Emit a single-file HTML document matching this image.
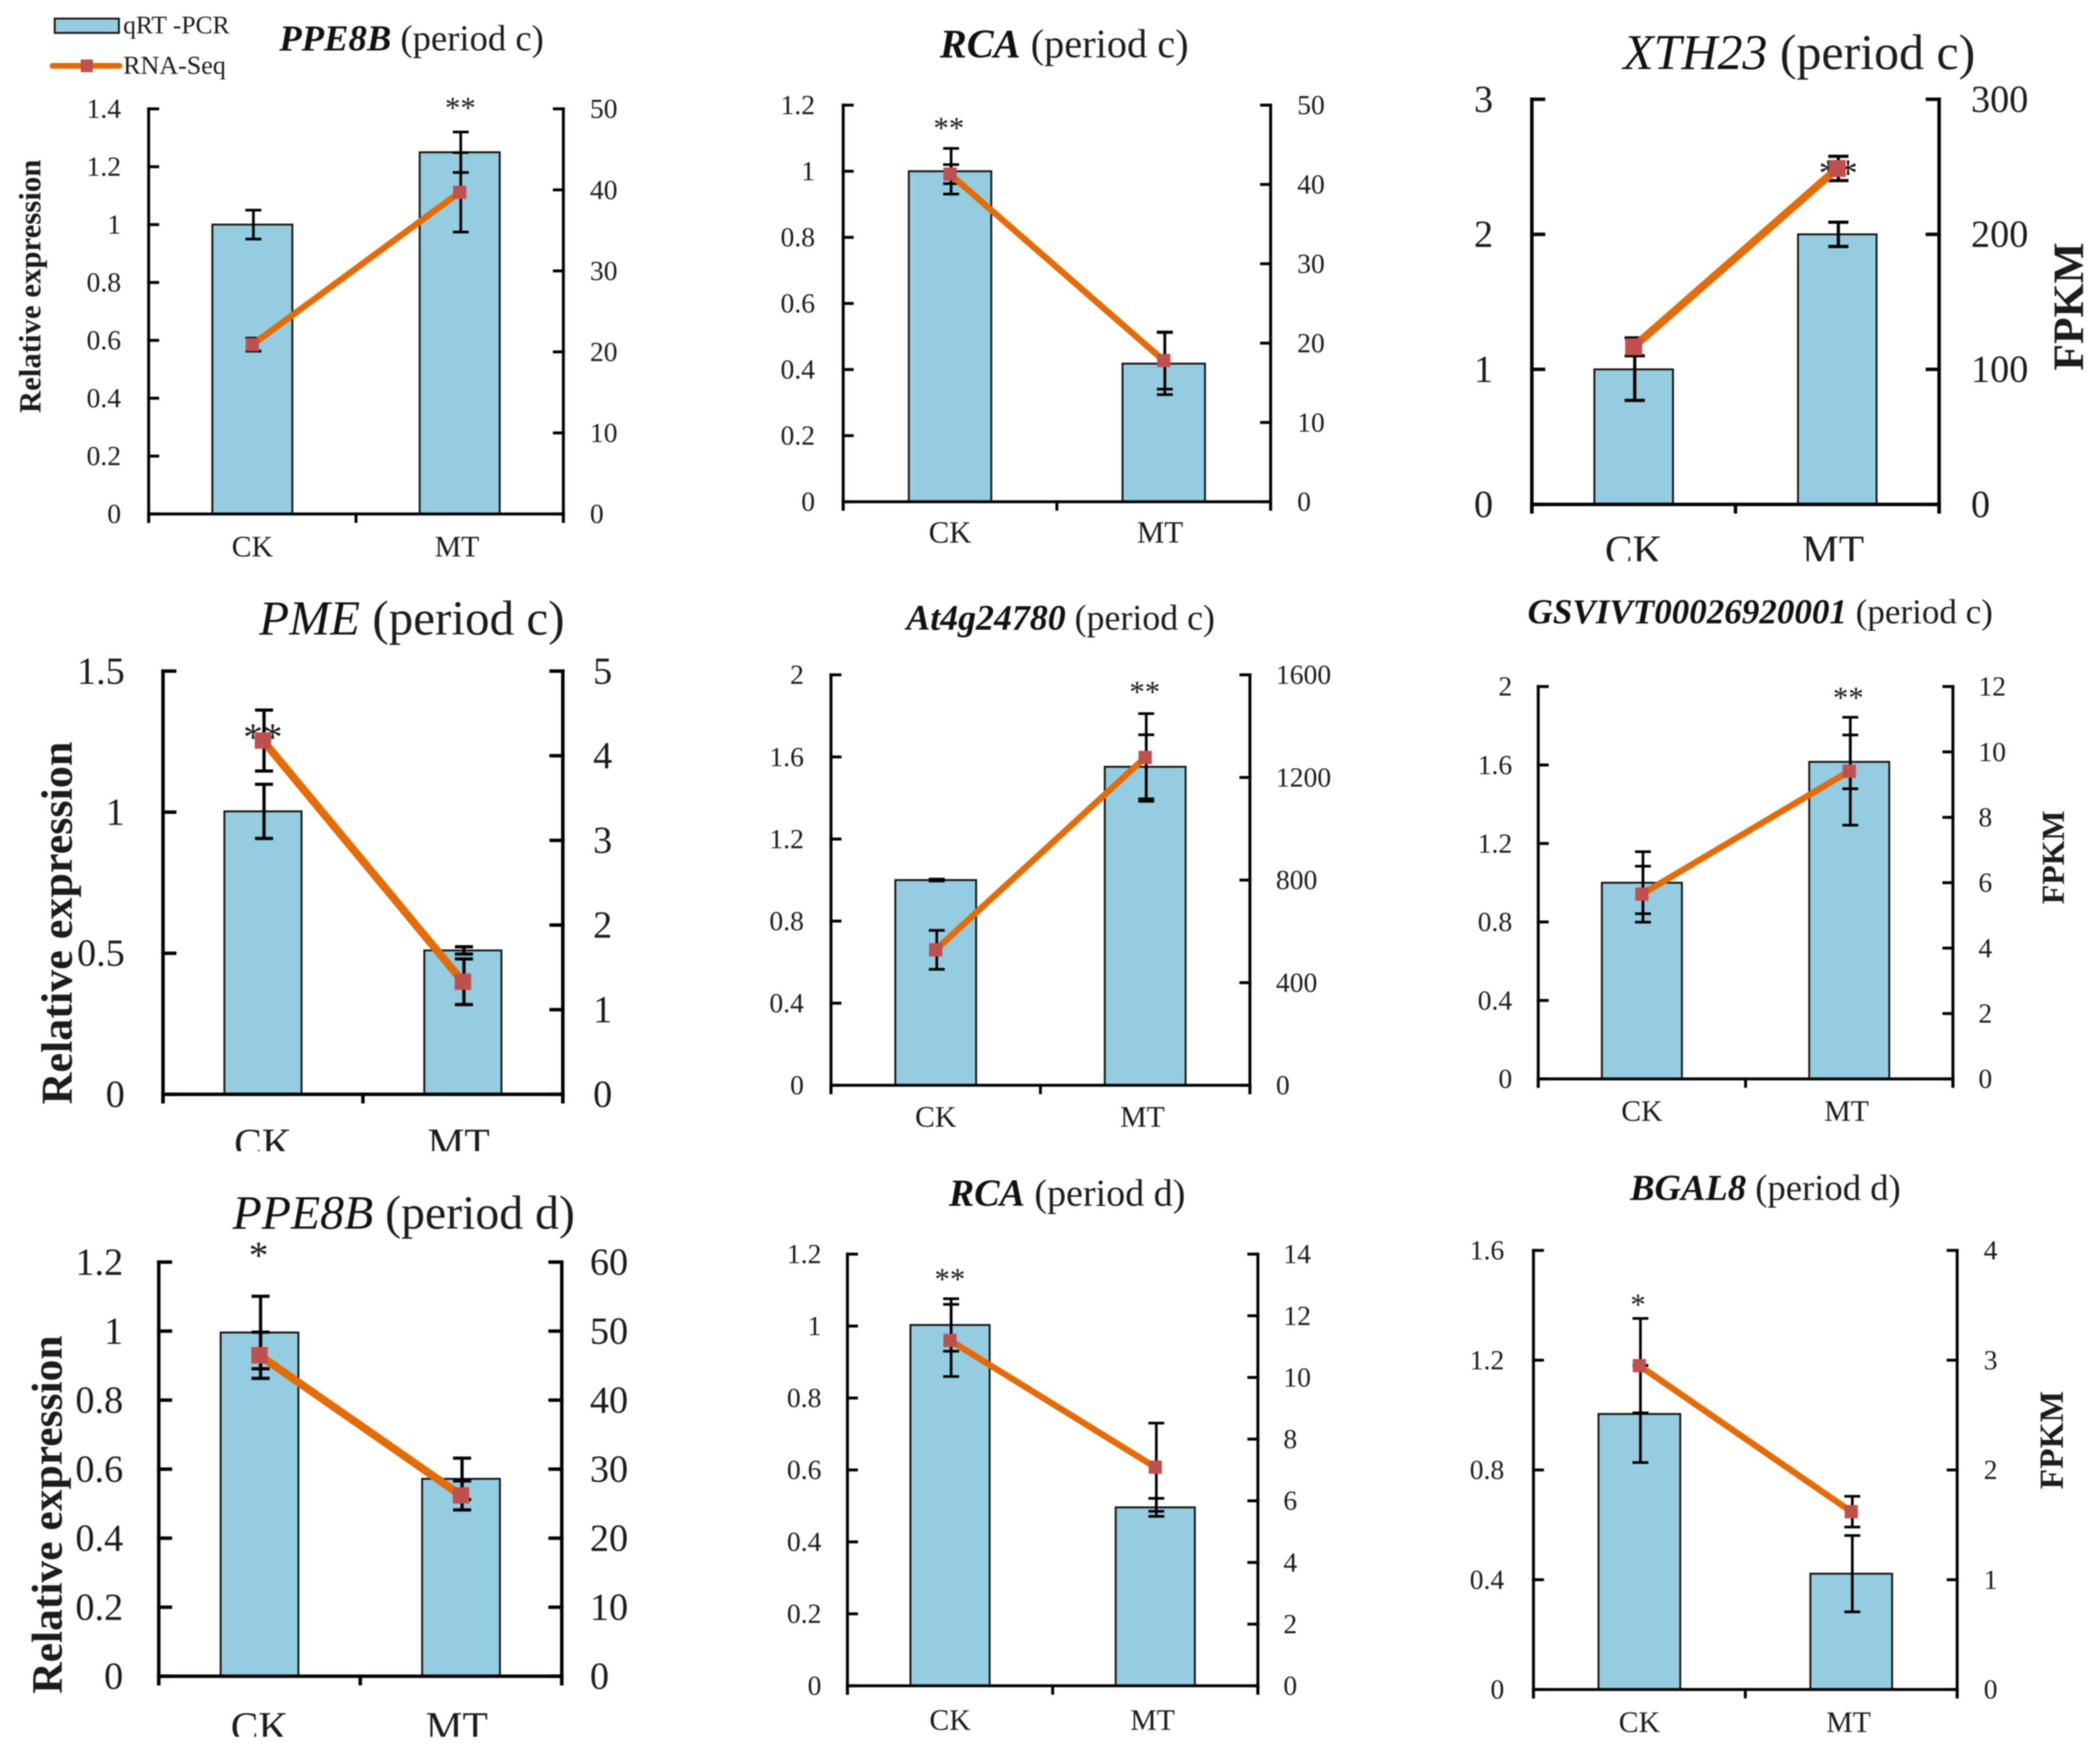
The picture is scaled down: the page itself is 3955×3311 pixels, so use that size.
<!DOCTYPE html>
<html lang="en">
<head>
<meta charset="utf-8">
<title>qRT-PCR and RNA-Seq expression panels</title>
<style>
html,body{margin:0;padding:0;background:#fff;}
svg{display:block;filter:blur(1px);}
text{font-family:"Liberation Serif",serif;fill:#1c1c1c;}
</style>
</head>
<body>
<svg id="figure" xmlns="http://www.w3.org/2000/svg" width="3955" height="3311" viewBox="0 0 3955 3311">
  <rect x="0" y="0" width="3955" height="3311" fill="#fff"/>
  <g>
    <rect x="103" y="35" width="121" height="27" fill="#94CDDF" stroke="#111" stroke-width="3.5"/>
    <text x="232" y="63" font-size="48">qRT -PCR</text>
    <line x1="99" y1="124" x2="225" y2="124" stroke="#E36C09" stroke-width="11" stroke-linecap="round"/>
    <rect x="152" y="112" width="23" height="24" fill="#C0504D"/>
    <text x="232" y="139" font-size="49">RNA-Seq</text>
  </g>
</svg>
<script>
const categories = ['CK', 'MT'];

const p1LeftTicks = ['0', '0.2', '0.4', '0.6', '0.8', '1', '1.2', '1.4'];
const p1RightTicks = ['0', '10', '20', '30', '40', '50'];
const p1Qpcr = [1, 1.25];
const p1QpcrErr = [0.05, 0.07];
const p1RnaSeq = [20.9, 39.7];
const p1RnaSeqErr = [0.8, 4.9];

const p2LeftTicks = ['0', '0.2', '0.4', '0.6', '0.8', '1', '1.2'];
const p2RightTicks = ['0', '10', '20', '30', '40', '50'];
const p2Qpcr = [1, 0.418];
const p2QpcrErr = [0.069, 0.094];
const p2RnaSeq = [41.3, 17.8];
const p2RnaSeqErr = [1.2, 3.6];

const p3LeftTicks = ['0', '1', '2', '3'];
const p3RightTicks = ['0', '100', '200', '300'];
const p3Qpcr = [1, 2];
const p3QpcrErr = [0.23, 0.09];
const p3RnaSeq = [116.7, 248.8];
const p3RnaSeqErr = [6.6, 9];

const p4LeftTicks = ['0', '0.5', '1', '1.5'];
const p4RightTicks = ['0', '1', '2', '3', '4', '5'];
const p4Qpcr = [1.003, 0.51];
const p4QpcrErr = [0.096, 0.013];
const p4RnaSeq = [4.18, 1.33];
const p4RnaSeqErr = [0.36, 0.27];

const p5LeftTicks = ['0', '0.4', '0.8', '1.2', '1.6', '2'];
const p5RightTicks = ['0', '400', '800', '1200', '1600'];
const p5Qpcr = [1, 1.552];
const p5QpcrErr = [0.005, 0.156];
const p5RnaSeq = [528, 1278];
const p5RnaSeqErr = [76, 171];

const p6LeftTicks = ['0', '0.4', '0.8', '1.2', '1.6', '2'];
const p6RightTicks = ['0', '2', '4', '6', '8', '10', '12'];
const p6Qpcr = [1, 1.616];
const p6QpcrErr = [0.158, 0.137];
const p6RnaSeq = [5.65, 9.41];
const p6RnaSeqErr = [0.855, 1.65];

const p7LeftTicks = ['0', '0.2', '0.4', '0.6', '0.8', '1', '1.2'];
const p7RightTicks = ['0', '10', '20', '30', '40', '50', '60'];
const p7Qpcr = [0.996, 0.572];
const p7QpcrErr = [0.105, 0.06];
const p7RnaSeq = [46.5, 26.2];
const p7RnaSeqErr = [3.35, 2.1];

const p8LeftTicks = ['0', '0.2', '0.4', '0.6', '0.8', '1', '1.2'];
const p8RightTicks = ['0', '2', '4', '6', '8', '10', '12', '14'];
const p8Qpcr = [1.003, 0.496];
const p8QpcrErr = [0.073, 0.025];
const p8RnaSeq = [11.2, 7.09];
const p8RnaSeqErr = [1.17, 1.43];

const p9LeftTicks = ['0', '0.4', '0.8', '1.2', '1.6'];
const p9RightTicks = ['0', '1', '2', '3', '4'];
const p9Qpcr = [1.004, 0.422];
const p9QpcrErr = [0.177, 0.139];
const p9RnaSeq = [2.95, 1.62];
const p9RnaSeqErr = [0.43, 0.14];

const NS = 'http://www.w3.org/2000/svg';
const svg = document.getElementById('figure');

function make(parent, tag, attrs, content) {
  const el = document.createElementNS(NS, tag);
  for (const k in attrs) el.setAttribute(k, attrs[k]);
  if (content !== undefined) el.textContent = content;
  parent.appendChild(el);
  return el;
}

function drawPanel(p) {
  const panel = make(svg, 'g', {});
  
  

  const leftMax = parseFloat(p.leftTicks[p.leftTicks.length - 1]);
  const rightMax = parseFloat(p.rightTicks[p.rightTicks.length - 1]);
  const yLeft = v => p.yBot - (v / leftMax) * (p.yBot - p.yTop);
  const yRight = v => p.yBot - (v / rightMax) * (p.yBot - p.yTop);
  const catWidth = (p.x1 - p.x0) / categories.length;
  const xCat = i => p.x0 + catWidth * (i + 0.5);
  const barWidth = catWidth * 0.386;

  // title
  const title = make(panel, 'text', {x: p.titleX, y: p.titleY, 'font-size': p.titleSize});
  
  
  const gene = make(title, 'tspan', {'font-style': 'italic', 'font-weight': p.titleBold ? 'bold' : 'normal', fill: '#111'}, p.gene);
  
  
  const period = make(title, 'tspan', {}, ' ' + p.period);
  
  

  // bars
  categories.forEach((c, i) => {
    const bar = make(panel, 'rect', {
      x: xCat(i) - barWidth / 2, y: yLeft(p.bars[i]),
      width: barWidth, height: p.yBot - yLeft(p.bars[i]),
      fill: '#94CDDF', stroke: '#111', 'stroke-width': 3.5
    });
    
    
  });

  // axes
  const axisStyle = {stroke: '#000', 'stroke-width': p.axisW, 'stroke-linecap': 'square'};
  const leftAxis = make(panel, 'line', Object.assign({x1: p.x0, y1: p.yTop, x2: p.x0, y2: p.yBot + 14}, axisStyle));
  
  
  const rightAxis = make(panel, 'line', Object.assign({x1: p.x1, y1: p.yTop, x2: p.x1, y2: p.yBot + 14}, axisStyle));
  
  
  const xAxis = make(panel, 'line', Object.assign({x1: p.x0, y1: p.yBot, x2: p.x1, y2: p.yBot}, axisStyle));
  
  
  for (let i = 0; i <= categories.length; i++) {
    const tx = p.x0 + catWidth * i;
    const xTick = make(panel, 'line', Object.assign({x1: tx, y1: p.yBot, x2: tx, y2: p.yBot + 14}, axisStyle));
    
    
  }

  // left ticks and labels
  p.leftTicks.forEach(t => {
    const y = yLeft(parseFloat(t));
    const tick = make(panel, 'line', Object.assign({x1: p.x0, y1: y, x2: p.x0 + p.tickLen, y2: y}, axisStyle));
    
    
    const label = make(panel, 'text', {x: p.x0 - p.leftGap, y: y + 0.33 * p.tickSize, 'font-size': p.tickSize, 'text-anchor': 'end'}, t);
    
    
  });

  // right ticks and labels
  p.rightTicks.forEach(t => {
    const y = yRight(parseFloat(t));
    const tick = make(panel, 'line', Object.assign({x1: p.x1, y1: y, x2: p.x1 - p.tickLen, y2: y}, axisStyle));
    
    
    const label = make(panel, 'text', {x: p.x1 + p.rightGap, y: y + 0.33 * p.tickSize, 'font-size': p.tickSize}, t);
    
    
  });

  // category labels (some panels are cropped at the bottom)
  const clipId = 'clip-' + p.name;
  const clip = make(panel, 'clipPath', {id: clipId});
  make(clip, 'rect', {x: p.x0 - 200, y: p.catY - 200, width: p.x1 - p.x0 + 400, height: 200 + (p.catClip || 100)});
  categories.forEach((c, i) => {
    const label = make(panel, 'text', {x: xCat(i) + p.catShift * i, y: p.catY, 'font-size': p.catSize, 'text-anchor': 'middle', 'clip-path': 'url(#' + clipId + ')'}, c);
    
    
  });

  // axis titles
  if (p.yTitle) {
    const yt = make(panel, 'text', {transform: 'translate(' + p.yTitle.x + ' ' + p.yTitle.y + ') rotate(-90)', 'font-size': p.yTitle.size, 'font-weight': 'bold', fill: '#111'}, 'Relative expression');
    
    
  }
  if (p.rTitle) {
    const rt = make(panel, 'text', {transform: 'translate(' + p.rTitle.x + ' ' + p.rTitle.y + ') rotate(-90)', 'font-size': p.rTitle.size, 'font-weight': 'bold', fill: '#111'}, 'FPKM');
    
    
  }

  // significance stars
  const star = make(panel, 'text', {x: p.star.x, y: p.star.y + 0.47 * p.star.size, 'font-size': p.star.size, 'text-anchor': 'middle'}, p.star.text);
  
  

  // error bars
  function errorBar(cx, yHi, yLo, name) {
    const g = make(panel, 'g', {stroke: '#000', 'stroke-width': p.errW, fill: 'none'});
    
    
    make(g, 'line', {x1: cx, y1: yHi, x2: cx, y2: yLo});
    make(g, 'line', {x1: cx - p.cap, y1: yHi, x2: cx + p.cap, y2: yHi});
    make(g, 'line', {x1: cx - p.cap, y1: yLo, x2: cx + p.cap, y2: yLo});
  }
  categories.forEach((c, i) => {
    errorBar(xCat(i) + 2, yLeft(p.bars[i] + p.barErr[i]), yLeft(p.bars[i] - p.barErr[i]), 'qrt-pcr-error-bar-' + c.toLowerCase());
    errorBar(xCat(i) + 2, yRight(p.line[i] + p.lineErr[i]), yRight(p.line[i] - p.lineErr[i]), 'rna-seq-error-bar-' + c.toLowerCase());
  });

  // RNA-Seq line and markers
  const pts = categories.map((c, i) => xCat(i) + ',' + yRight(p.line[i])).join(' ');
  const line = make(panel, 'polyline', {points: pts, fill: 'none', stroke: '#E36C09', 'stroke-width': p.lineW});
  
  
  categories.forEach((c, i) => {
    const m = make(panel, 'rect', {x: xCat(i) - p.marker / 2, y: yRight(p.line[i]) - p.marker / 2, width: p.marker, height: p.marker, fill: '#C0504D'});
    
    
  });
}

const small = {axisW: 5.5, errW: 5, tickLen: 17, cap: 15, marker: 25, lineW: 12, tickSize: 52, catSize: 56, catShift: -5};
const large = {axisW: 6.5, errW: 6, tickLen: 22, cap: 17, marker: 31, lineW: 15, tickSize: 72, catSize: 78, catShift: -8};

drawPanel(Object.assign({}, small, {
  name: 'ppe8b-period-c', gene: 'PPE8B', period: '(period c)', titleBold: true, titleX: 526, titleY: 95, titleSize: 69,
  x0: 280, x1: 1061, yTop: 205, yBot: 968, leftGap: 52, rightGap: 50,
  leftTicks: p1LeftTicks, rightTicks: p1RightTicks, bars: p1Qpcr, barErr: p1QpcrErr, line: p1RnaSeq, lineErr: p1RnaSeqErr,
  catY: 1048, yTitle: {x: 76, y: 778, size: 58}, star: {x: 867, y: 195, size: 58, text: '**'}
}));
drawPanel(Object.assign({}, small, {
  name: 'rca-period-c', gene: 'RCA', period: '(period c)', titleBold: true, titleX: 1770, titleY: 108, titleSize: 76,
  x0: 1588, x1: 2393, yTop: 198, yBot: 945, leftGap: 53, rightGap: 50,
  leftTicks: p2LeftTicks, rightTicks: p2RightTicks, bars: p2Qpcr, barErr: p2QpcrErr, line: p2RnaSeq, lineErr: p2RnaSeqErr,
  catY: 1022, catSize: 58, catShift: -7, star: {x: 1787, y: 233, size: 58, text: '**'}
}));
drawPanel(Object.assign({}, large, {
  name: 'xth23-period-c', gene: 'XTH23', period: '(period c)', titleBold: false, titleX: 3057, titleY: 130, titleSize: 94,
  x0: 2885, x1: 3652, yTop: 187, yBot: 950, leftGap: 73, rightGap: 60,
  leftTicks: p3LeftTicks, rightTicks: p3RightTicks, bars: p3Qpcr, barErr: p3QpcrErr, line: p3RnaSeq, lineErr: p3RnaSeqErr,
  catY: 1062, catClip: -5, rTitle: {x: 3923, y: 698, size: 82}, cap: 19, marker: 32, star: {x: 3462, y: 316, size: 74, text: '**'}
}));
drawPanel(Object.assign({}, large, {
  name: 'pme-period-c', gene: 'PME', period: '(period c)', titleBold: false, titleX: 488, titleY: 1195, titleSize: 92.5,
  x0: 307, x1: 1060, yTop: 1264, yBot: 2061, leftGap: 72, rightGap: 57,
  leftTicks: p4LeftTicks, rightTicks: p4RightTicks, bars: p4Qpcr, barErr: p4QpcrErr, line: p4RnaSeq, lineErr: p4RnaSeqErr,
  catY: 2179, catClip: -11, yTitle: {x: 135, y: 2080, size: 83}, star: {x: 495, y: 1378, size: 74, text: '**'}
}));
drawPanel(Object.assign({}, small, {
  name: 'at4g24780-period-c', gene: 'At4g24780', period: '(period c)', titleBold: true, titleX: 1707, titleY: 1186, titleSize: 67.5,
  x0: 1565, x1: 2354, yTop: 1271, yBot: 2044, leftGap: 51, rightGap: 49,
  leftTicks: p5LeftTicks, rightTicks: p5RightTicks, bars: p5Qpcr, barErr: p5QpcrErr, line: p5RnaSeq, lineErr: p5RnaSeqErr,
  catY: 2122, star: {x: 2156, y: 1295, size: 58, text: '**'}
}));
drawPanel(Object.assign({}, small, {
  name: 'gsvivt00026920001-period-c', gene: 'GSVIVT00026920001', period: '(period c)', titleBold: true, titleX: 2877, titleY: 1174, titleSize: 66,
  x0: 2897, x1: 3678, yTop: 1293, yBot: 2032, leftGap: 49, rightGap: 48,
  leftTicks: p6LeftTicks, rightTicks: p6RightTicks, bars: p6Qpcr, barErr: p6QpcrErr, line: p6RnaSeq, lineErr: p6RnaSeqErr,
  catY: 2111, rTitle: {x: 3887, y: 1703, size: 60}, star: {x: 3481, y: 1306, size: 58, text: '**'}
}));
drawPanel(Object.assign({}, large, {
  name: 'ppe8b-period-d', gene: 'PPE8B', period: '(period d)', titleBold: false, titleX: 438, titleY: 2314, titleSize: 90,
  x0: 299, x1: 1058, yTop: 2377, yBot: 3157, leftGap: 67, rightGap: 53,
  leftTicks: p7LeftTicks, rightTicks: p7RightTicks, bars: p7Qpcr, barErr: p7QpcrErr, line: p7RnaSeq, lineErr: p7RnaSeqErr,
  catY: 3278, catClip: -7, yTitle: {x: 116, y: 3190, size: 82}, star: {x: 487, y: 2354, size: 74, text: '*'}
}));
drawPanel(Object.assign({}, small, {
  name: 'rca-period-d', gene: 'RCA', period: '(period d)', titleBold: true, titleX: 1787, titleY: 2271, titleSize: 71.6,
  x0: 1596, x1: 2369, yTop: 2362, yBot: 3175, leftGap: 49, rightGap: 48,
  leftTicks: p8LeftTicks, rightTicks: p8RightTicks, bars: p8Qpcr, barErr: p8QpcrErr, line: p8RnaSeq, lineErr: p8RnaSeqErr,
  catY: 3258, star: {x: 1789, y: 2401, size: 58, text: '**'}
}));
drawPanel(Object.assign({}, small, {
  name: 'bgal8-period-d', gene: 'BGAL8', period: '(period d)', titleBold: true, titleX: 3070, titleY: 2260, titleSize: 69,
  x0: 2888, x1: 3686, yTop: 2355, yBot: 3182, leftGap: 55, rightGap: 50,
  leftTicks: p9LeftTicks, rightTicks: p9RightTicks, bars: p9Qpcr, barErr: p9QpcrErr, line: p9RnaSeq, lineErr: p9RnaSeqErr,
  catY: 3262, rTitle: {x: 3885, y: 2805, size: 63}, star: {x: 3085, y: 2449, size: 58, text: '*'}
}));
</script>
</body>
</html>
